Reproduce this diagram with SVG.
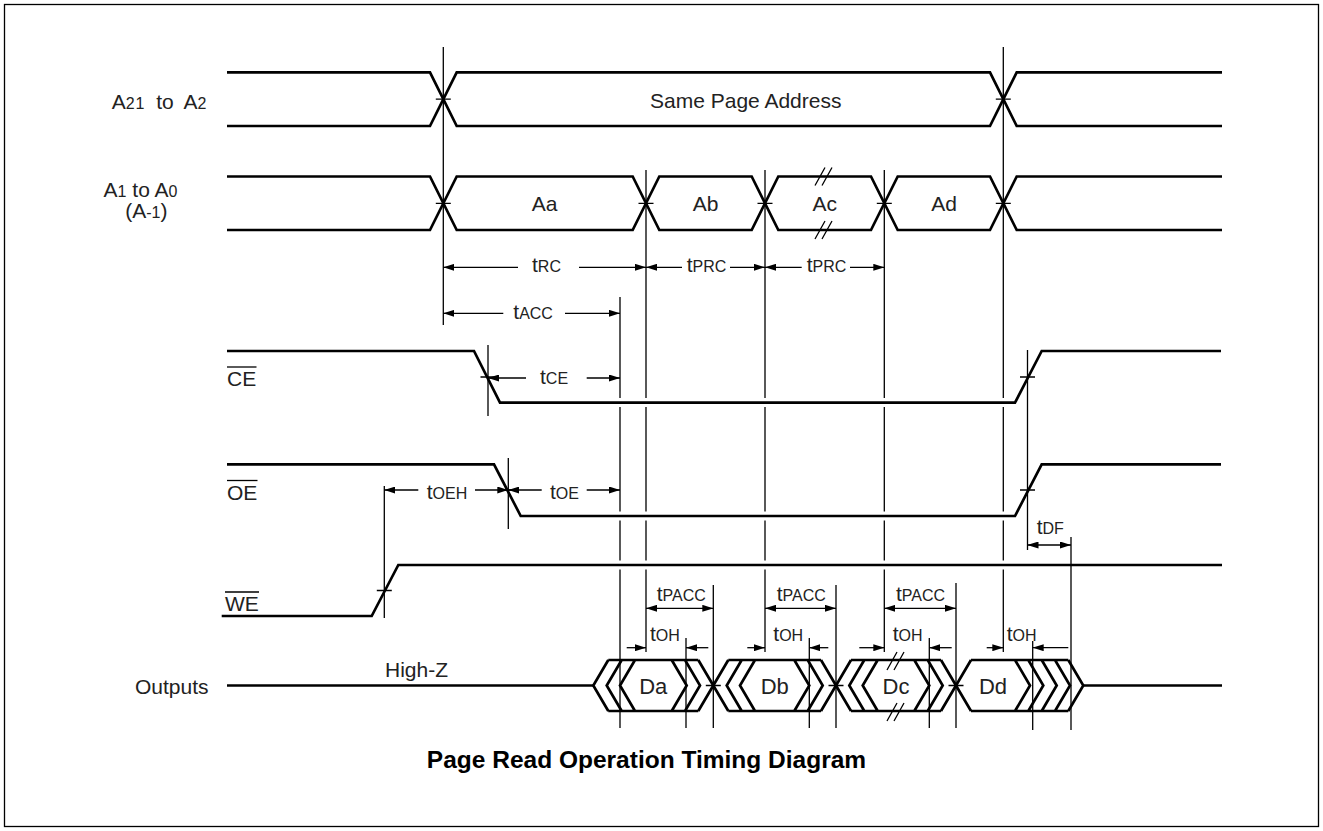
<svg xmlns="http://www.w3.org/2000/svg" width="1323" height="831" viewBox="0 0 1323 831">
<style>
.sig{fill:none;stroke:#000;stroke-width:2.7;stroke-linejoin:miter}
.ref{fill:none;stroke:#000;stroke-width:1.3}
.arr{fill:none;stroke:#000;stroke-width:1.3}
.s{marker-start:url(#ah)}
.e{marker-end:url(#ah)}
.lbl{font-family:"Liberation Sans",Arial,sans-serif;font-size:21px;fill:#222}
.sub{font-size:16px}
.big{font-family:"Liberation Sans",Arial,sans-serif;font-size:22px;fill:#222}
.title{font-family:"Liberation Sans",Arial,sans-serif;font-size:24.5px;font-weight:bold;fill:#000}
</style>
<defs>
<marker id="ah" viewBox="0 0 11 7" refX="11" refY="3.5" markerWidth="11" markerHeight="7" markerUnits="userSpaceOnUse" orient="auto-start-reverse">
<path d="M0,0 L11,3.5 L0,7 z" fill="#000"/>
</marker>
</defs>
<rect x="0" y="0" width="1323" height="831" fill="#fff"/>
<rect x="4.5" y="4.5" width="1314" height="822" fill="none" stroke="#000" stroke-width="1.3"/>

<g id="sig-a21">
<path class="sig" d="M227,72.3 H430 L456.7,126 H990 L1016.7,72.3 H1222"/>
<path class="sig" d="M227,126 H430 L456.7,72.3 H990 L1016.7,126 H1222"/>
<text class="lbl" x="159" y="109.3" text-anchor="middle" word-spacing="5">A<tspan class="sub" letter-spacing="1">21</tspan> to A<tspan class="sub">2</tspan></text>
<text class="lbl" x="650" y="108.3">Same Page Address</text>
</g>

<g id="sig-a1">
<path class="sig" d="M227,176.5 H430 L456.7,230 H632.7 L659.3,176.5 H751.7 L778.3,230 H871 L897.7,176.5 H990 L1016.7,230 H1222"/>
<path class="sig" d="M227,230 H430 L456.7,176.5 H632.7 L659.3,230 H751.7 L778.3,176.5 H871 L897.7,230 H990 L1016.7,176.5 H1222"/>
<path class="ref" d="M815,185.5 L825,167.5 M822,185.5 L832,167.5 M815,239 L825,221 M822,239 L832,221"/>
<text class="lbl" x="140.5" y="196.7" text-anchor="middle">A<tspan class="sub">1</tspan> to A<tspan class="sub">0</tspan></text>
<text class="lbl" x="146.4" y="217.5" text-anchor="middle">(A<tspan class="sub">-1</tspan>)</text>
<text class="lbl" x="544.7" y="211" text-anchor="middle">Aa</text>
<text class="lbl" x="705.5" y="211" text-anchor="middle">Ab</text>
<text class="lbl" x="824.7" y="211" text-anchor="middle">Ac</text>
<text class="lbl" x="944" y="211" text-anchor="middle">Ad</text>
</g>

<g id="sig-ce">
<path class="sig" d="M227,351 H474 L500,402.7 H1015 L1041.7,351 H1221"/>
<text class="lbl" x="227" y="386">CE</text>
<line class="ref" x1="227" y1="367" x2="256.5" y2="367"/>
</g>

<g id="sig-oe">
<path class="sig" d="M227,464.3 H494 L520.7,516 H1015 L1041.7,464.3 H1221"/>
<text class="lbl" x="227" y="499.5">OE</text>
<line class="ref" x1="227" y1="480.5" x2="257.5" y2="480.5"/>
</g>

<g id="sig-we">
<path class="sig" d="M221.7,616 H371.7 L398.3,565 H1222"/>
<text class="lbl" x="225" y="611">WE</text>
<line class="ref" x1="225" y1="592" x2="259" y2="592"/>
</g>

<g id="sig-out">
<path class="sig" d="M227,685.5 H593.3"/>
<path class="sig" d="M1083.3,685.5 H1222"/>
<path class="sig" d="M608.3,660 L593.3,685.5 L608.3,711 M621.7,660 L606.7,685.5 L621.7,711 M635,660 L620,685.5 L635,711 M608.3,660 H698.3 M608.3,711 H698.3 M671.7,660 L686.7,685.5 L671.7,711 M685,660 L700,685.5 L685,711 M698.3,660 L728.3,711 M698.3,711 L728.3,660"/>
<path class="sig" d="M741.7,660 L726.7,685.5 L741.7,711 M755,660 L740,685.5 L755,711 M728.3,660 H821 M728.3,711 H821 M794.3,660 L809.3,685.5 L794.3,711 M807.7,660 L822.7,685.5 L807.7,711 M821,660 L851,711 M821,711 L851,660"/>
<path class="sig" d="M864.3,660 L849.3,685.5 L864.3,711 M877.7,660 L862.7,685.5 L877.7,711 M851,660 H941 M851,711 H941 M914.3,660 L929.3,685.5 L914.3,711 M927.7,660 L942.7,685.5 L927.7,711 M941,660 L971,711 M941,711 L971,660"/>
<path class="sig" d="M971,660 H1068.3 M971,711 H1068.3 M1015,660 L1030,685.5 L1015,711 M1028.3,660 L1043.3,685.5 L1028.3,711 M1041.7,660 L1056.7,685.5 L1041.7,711 M1055,660 L1070,685.5 L1055,711 M1068.3,660 L1083.3,685.5 L1068.3,711"/>
<path class="ref" d="M887,670 L897,652 M894,670 L904,652 M887,721 L897,703 M894,721 L904,703"/>
<text class="lbl" x="135" y="693.5">Outputs</text>
<text class="lbl" x="385" y="677.3">High-Z</text>
<text class="big" x="653.3" y="693.5" text-anchor="middle">Da</text>
<text class="big" x="774.7" y="693.5" text-anchor="middle">Db</text>
<text class="big" x="896" y="693.5" text-anchor="middle">Dc</text>
<text class="big" x="993" y="693.5" text-anchor="middle">Dd</text>
</g>

<g id="connectors">
<path class="ref" d="M443.3,47 V325"/>
<path class="ref" d="M1003.3,47 V398 M1003.3,407 V511.5 M1003.3,520.5 V560.5 M1003.3,569.5 V652"/>
<path class="ref" d="M646,170 V398 M646,407 V511.5 M646,520.5 V560.5 M646,569.5 V652"/>
<path class="ref" d="M765,170 V398 M765,407 V511.5 M765,520.5 V560.5 M765,569.5 V652"/>
<path class="ref" d="M884.3,170 V398 M884.3,407 V511.5 M884.3,520.5 V560.5 M884.3,569.5 V652"/>
<path class="ref" d="M620,297 V398 M620,407 V511.5 M620,520.5 V560.5 M620,569.5 V728"/>
<path class="ref" d="M713.3,585 V728 M836,585 V728 M956,583 V728"/>
<path class="ref" d="M686,638 V728 M809.3,638 V728 M929.3,638 V728 M1032.7,641 V730"/>
<path class="ref" d="M1071,537 V730 M1027.5,350 V550"/>
<path class="ref" d="M488,345 V416 M508.3,458 V529 M384.3,486 V618"/>
<path class="ref" d="M435.8,99.2 H450.8 M995.8,99.2 H1010.8 M435.8,203.3 H450.8 M638.5,203.3 H653.5 M757.5,203.3 H772.5 M876.8,203.3 H891.8 M995.8,203.3 H1010.8 M480.5,377 H495.5 M500.8,490 H515.8 M376.8,590.5 H391.8 M1020,377 H1035 M1020,490 H1035 M705.8,685.5 H720.8 M828.5,685.5 H843.5 M948.5,685.5 H963.5"/>
<line class="arr e" x1="518" y1="267.3" x2="443.3" y2="267.3"/>
<line class="arr e" x1="579" y1="267.3" x2="646" y2="267.3"/>
<line class="arr e" x1="682" y1="267.3" x2="646" y2="267.3"/>
<line class="arr e" x1="730" y1="267.3" x2="765" y2="267.3"/>
<line class="arr e" x1="801.7" y1="267.3" x2="765" y2="267.3"/>
<line class="arr e" x1="850" y1="267.3" x2="884.3" y2="267.3"/>
<line class="arr e" x1="503.3" y1="313.3" x2="443.3" y2="313.3"/>
<line class="arr e" x1="565" y1="313.3" x2="620" y2="313.3"/>
<line class="arr e" x1="526" y1="378" x2="488" y2="378"/>
<line class="arr e" x1="586.7" y1="378" x2="620" y2="378"/>
<line class="arr e" x1="541.7" y1="490" x2="508.3" y2="490"/>
<line class="arr e" x1="586.7" y1="490" x2="620" y2="490"/>
<line class="arr e" x1="418.3" y1="490" x2="384.3" y2="490"/>
<line class="arr e" x1="475" y1="490" x2="508.3" y2="490"/>
<line class="arr s e" x1="1027.5" y1="545" x2="1071" y2="545"/>
<line class="arr s e" x1="646" y1="608.3" x2="713.3" y2="608.3"/>
<line class="arr s e" x1="765" y1="608.3" x2="836" y2="608.3"/>
<line class="arr s e" x1="884.3" y1="608.3" x2="956" y2="608.3"/>
<line class="arr e" x1="626.7" y1="647.7" x2="646" y2="647.7"/>
<line class="arr e" x1="708.3" y1="647.7" x2="686" y2="647.7"/>
<line class="arr e" x1="747.3" y1="647.7" x2="765" y2="647.7"/>
<line class="arr e" x1="828.3" y1="647.7" x2="809.3" y2="647.7"/>
<line class="arr e" x1="859.3" y1="647.7" x2="884.3" y2="647.7"/>
<line class="arr e" x1="951.7" y1="647.7" x2="929.3" y2="647.7"/>
<line class="arr e" x1="986.7" y1="647.7" x2="1003.3" y2="647.7"/>
<line class="arr e" x1="1068.3" y1="647.7" x2="1032.7" y2="647.7"/>
<text class="lbl" x="532" y="272">t<tspan class="sub">RC</tspan></text>
<text class="lbl" x="686.7" y="272">t<tspan class="sub">PRC</tspan></text>
<text class="lbl" x="806.7" y="272">t<tspan class="sub">PRC</tspan></text>
<text class="lbl" x="513.3" y="318.5">t<tspan class="sub">ACC</tspan></text>
<text class="lbl" x="540" y="384">t<tspan class="sub">CE</tspan></text>
<text class="lbl" x="550" y="499">t<tspan class="sub">OE</tspan></text>
<text class="lbl" x="426.7" y="499">t<tspan class="sub">OEH</tspan></text>
<text class="lbl" x="1036.7" y="533.5">t<tspan class="sub">DF</tspan></text>
<text class="lbl" x="656.7" y="600.5">t<tspan class="sub">PACC</tspan></text>
<text class="lbl" x="776.7" y="600.5">t<tspan class="sub">PACC</tspan></text>
<text class="lbl" x="896" y="600.5">t<tspan class="sub">PACC</tspan></text>
<text class="lbl" x="650" y="640.5">t<tspan class="sub">OH</tspan></text>
<text class="lbl" x="773.3" y="640.5">t<tspan class="sub">OH</tspan></text>
<text class="lbl" x="892.7" y="640.5">t<tspan class="sub">OH</tspan></text>
<text class="lbl" x="1006.7" y="640.5">t<tspan class="sub">OH</tspan></text>
</g>

<text class="title" x="646.5" y="768" text-anchor="middle">Page Read Operation Timing Diagram</text>
</svg>
